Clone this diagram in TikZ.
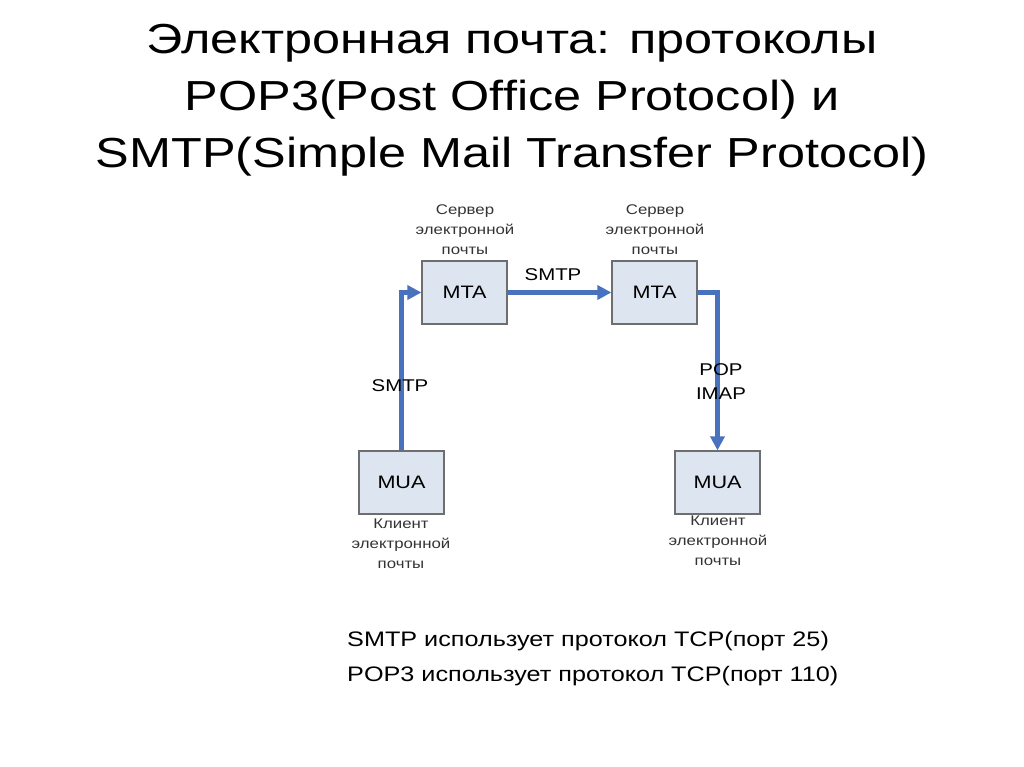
\documentclass[tikz,border=0pt]{standalone}
\usepackage{fontspec}
\setmainfont{Liberation Sans}
\usetikzlibrary{arrows.meta}
\definecolor{boxfill}{RGB}{221,229,240}
\definecolor{boxline}{RGB}{110,110,110}
\definecolor{arr}{RGB}{72,114,190}
\tikzset{
  wide/.style={xscale=1.2,transform shape},
  box/.style={draw=boxline,fill=boxfill,line width=1.2pt,minimum width=85pt,minimum height=63pt,inner sep=0pt,font=\fontsize{18}{20}\selectfont},
  lbl/.style={wide,font=\fontsize{14}{20}\selectfont,align=center,text=black!80},
  flow/.style={draw=arr,line width=4.5pt,-{Triangle[length=14pt,width=14pt]}},
  proto/.style={wide,font=\fontsize{17}{24}\selectfont,align=center}
}
\begin{document}
\begin{tikzpicture}[x=1pt,y=-1pt]
\useasboundingbox (0,0) rectangle (1024,767);
\node[wide,font=\fontsize{42}{57}\selectfont,align=center] (title) at (512,100) {Электронная почта: протоколы\\POP3(Post Office Protocol) и\\SMTP(Simple Mail Transfer Protocol)};
\node[box] (mta1) at (464.5,292.5) {\scalebox{1.2}[1]{MTA}};
\node[box] (mta2) at (654.5,292.5) {\scalebox{1.2}[1]{MTA}};
\node[box] (mua1) at (401.5,482.5) {\scalebox{1.2}[1]{MUA}};
\node[box] (mua2) at (717.5,482.5) {\scalebox{1.2}[1]{MUA}};
\node[lbl] (s1) at (465,230) {Сервер\\электронной\\почты};
\node[lbl] (s2) at (655,230) {Сервер\\электронной\\почты};
\node[lbl] (c1) at (401,544) {Клиент\\электронной\\почты};
\node[lbl] (c2) at (718,541) {Клиент\\электронной\\почты};
\draw[flow] (mua1.north) |- (mta1.west);
\draw[flow] (mta1.east) -- (mta2.west);
\draw[flow] (mta2.east) -| (mua2.north);
\node[proto] (p1) at (553,275) {SMTP};
\node[proto] (p2) at (400,386) {SMTP};
\node[proto] (p3) at (721,382) {POP\\IMAP};
\node[wide,font=\fontsize{21}{35}\selectfont,align=left,anchor=north west] (note) at (343,628) {SMTP использует протокол TCP(порт 25)\\POP3 использует протокол TCP(порт 110)};
\end{tikzpicture}
\end{document}
